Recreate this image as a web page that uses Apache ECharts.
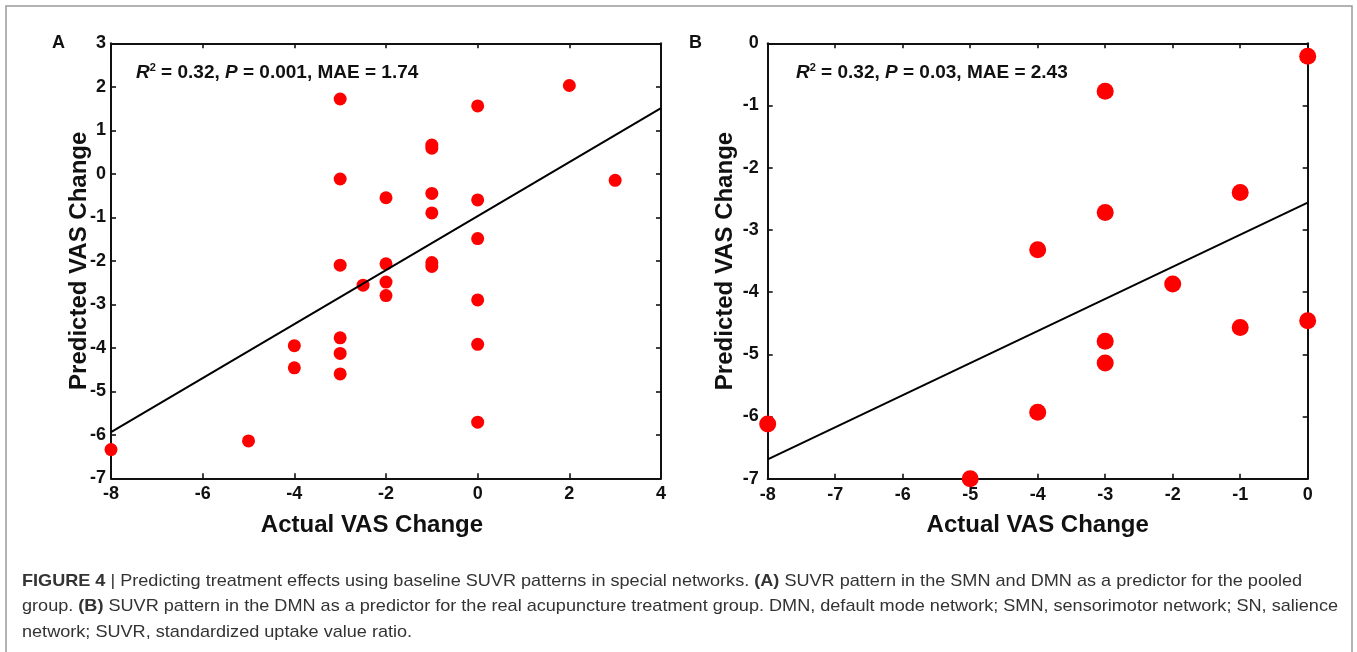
<!DOCTYPE html>
<html>
<head>
<meta charset="utf-8">
<script src="https://cdn.jsdelivr.net/npm/echarts@6/dist/echarts.min.js"></script>
<style>
html,body{margin:0;padding:0;background:#fff;}
#main{width:1357px;height:652px;}
</style>
</head>
<body>
<div id="main"></div>
<script>
// panel A: pooled group
const actualA    = [-3, -3, -3, -3, -3, -3, -4, -4, -5, -8, -2.5, -2, -2, -2, -2, -1, -1, -1, -1, -1, -1, 0, 0, 0, 0, 0, 0, 2, 3];
const predictedA = [1.72, -0.12, -2.10, -3.77, -4.13, -4.60, -3.95, -4.46, -6.14, -6.34, -2.56, -0.55, -2.07, -2.49, -2.80, 0.66, 0.59, -0.45, -0.90, -2.04, -2.13, 1.56, -0.60, -1.49, -2.90, -3.92, -5.71, 2.03, -0.15];
const fitA = [[-8, -5.94], [4, 1.51]];

// panel B: real acupuncture group
const actualB    = [0, -3, -1, -3, -4, -2, 0, -1, -3, -3, -4, -8, -5];
const predictedB = [-0.21, -0.77, -2.40, -2.72, -3.32, -3.87, -4.46, -4.57, -4.79, -5.14, -5.93, -6.12, -7.0];
const fitB = [[-8, -6.69], [0, -2.56]];

const statsA = ['0.32', '0.001', '1.74'];
const statsB = ['0.32', '0.03', '2.43'];

const FONT = '"Liberation Sans", Arial, sans-serif';

function pairs(xs, ys){ return xs.map((x, i) => [x, ys[i]]); }

function axisPair(gi, min, max, interval, labelMargin, nameGap, pos, namePad){
  const common = {
    gridIndex: gi, type: 'value', min: min, max: max, interval: interval,
    splitLine: {show: false},
    axisLine: {show: true, onZero: false, lineStyle: {color: '#111', width: 2}},
    axisTick: {show: true, inside: true, length: 5, lineStyle: {color: '#111', width: 1.6}}
  };
  return [
    Object.assign({}, common, {
      position: pos[0],
      axisLabel: {color: '#111', fontFamily: FONT, fontWeight: 'bold', fontSize: 18, margin: labelMargin},
      name: pos[0] === 'bottom' ? 'Actual VAS Change' : 'Predicted VAS Change',
      nameLocation: 'middle', nameGap: nameGap, nameMoveOverlap: false,
      nameTextStyle: {color: '#111', fontFamily: FONT, fontWeight: 'bold', fontSize: 24, padding: namePad || 0}
    }),
    Object.assign({}, common, {position: pos[1], axisLabel: {show: false}})
  ];
}

function statsText(s){
  return '{i|R}{sup|2}{n| = ' + s[0] + ', }{i|P}{n| = ' + s[1] + ', MAE = ' + s[2] + '}';
}
const statsRich = {
  n: {fontFamily: FONT, fontWeight: 'bold', fontSize: 19, fill: '#111', lineHeight: 22},
  i: {fontFamily: FONT, fontWeight: 'bold', fontStyle: 'italic', fontSize: 19, fill: '#111', lineHeight: 22},
  sup: {fontFamily: FONT, fontWeight: 'bold', fontSize: 11, fill: '#111', lineHeight: 12, verticalAlign: 'top'}
};

// caption
const capLines = [
  [['FIGURE 4', 1], [' | Predicting treatment effects using baseline SUVR patterns in special networks. ', 0], ['(A)', 1], [' SUVR pattern in the SMN and DMN as a predictor for the pooled', 0]],
  [['group. ', 0], ['(B)', 1], [' SUVR pattern in the DMN as a predictor for the real acupuncture treatment group. DMN, default mode network; SMN, sensorimotor network; SN, salience', 0]],
  [['network; SUVR, standardized uptake value ratio.', 0]]
];
const CAP_SIZE = 17;
const ctx = document.createElement('canvas').getContext('2d');
function lineWidth(segs){
  let w = 0;
  segs.forEach(s => { ctx.font = (s[1] ? 'bold ' : '') + CAP_SIZE + 'px ' + FONT; w += ctx.measureText(s[0]).width; });
  return w;
}
const capScale = 1316 / lineWidth(capLines[1]);
const capRich = {
  b: {fontFamily: FONT, fontWeight: 'bold', fontSize: CAP_SIZE, fill: '#333'},
  r: {fontFamily: FONT, fontSize: CAP_SIZE, fill: '#333'}
};
const capGraphics = capLines.map((segs, k) => ({
  type: 'text', x: 22, y: 581 + k * 25.5, scaleX: capScale, originX: 0,
  style: {
    text: segs.map(s => '{' + (s[1] ? 'b' : 'r') + '|' + s[0] + '}').join(''),
    rich: capRich, verticalAlign: 'middle'
  }
}));

const chart = echarts.init(document.getElementById('main'));
const xa = axisPair(0, -8, 4, 2, 7, 35, ['bottom', 'top'], [0, 28, 0, 0]);
const ya = axisPair(0, -7, 3, 1, 5, 20, ['left', 'right']);
const xb = axisPair(1, -8, 0, 1, 7, 35, ['bottom', 'top']);
const yb = axisPair(1, -7, 0, 1, 9, 30, ['left', 'right']);

chart.setOption({
  backgroundColor: '#fff',
  animation: false,
  grid: [
    {left: 111, top: 43.3, width: 550, height: 435},
    {left: 767.7, top: 43.3, width: 540, height: 435.4}
  ],
  xAxis: [xa[0], xa[1], xb[0], xb[1]],
  yAxis: [ya[0], ya[1], yb[0], yb[1]],
  series: [
    {type: 'scatter', xAxisIndex: 0, yAxisIndex: 0, data: pairs(actualA, predictedA), symbolSize: 13, clip: false,
     itemStyle: {color: '#ff0000', opacity: 1}, z: 2},
    {type: 'line', xAxisIndex: 0, yAxisIndex: 0, data: fitA, symbol: 'none', lineStyle: {color: '#000', width: 2}, z: 3},
    {type: 'scatter', xAxisIndex: 2, yAxisIndex: 2, data: pairs(actualB, predictedB), symbolSize: 17, clip: false,
     itemStyle: {color: '#ff0000', opacity: 1}, z: 2},
    {type: 'line', xAxisIndex: 2, yAxisIndex: 2, data: fitB, symbol: 'none', lineStyle: {color: '#000', width: 2}, z: 3}
  ],
  graphic: [
    {type: 'rect', shape: {x: 6, y: 6, width: 1346, height: 700}, style: {fill: null, stroke: '#9a9a9a', lineWidth: 1.5}, silent: true},
    {type: 'text', x: 52, y: 43, style: {text: 'A', font: 'bold 18px ' + FONT, fill: '#111', verticalAlign: 'middle'}},
    {type: 'text', x: 689, y: 43, style: {text: 'B', font: 'bold 18px ' + FONT, fill: '#111', verticalAlign: 'middle'}},
    {type: 'text', x: 136, y: 73, style: {text: statsText(statsA), rich: statsRich, verticalAlign: 'middle'}},
    {type: 'text', x: 796, y: 73, style: {text: statsText(statsB), rich: statsRich, verticalAlign: 'middle'}}
  ].concat(capGraphics)
});
</script>
</body>
</html>
